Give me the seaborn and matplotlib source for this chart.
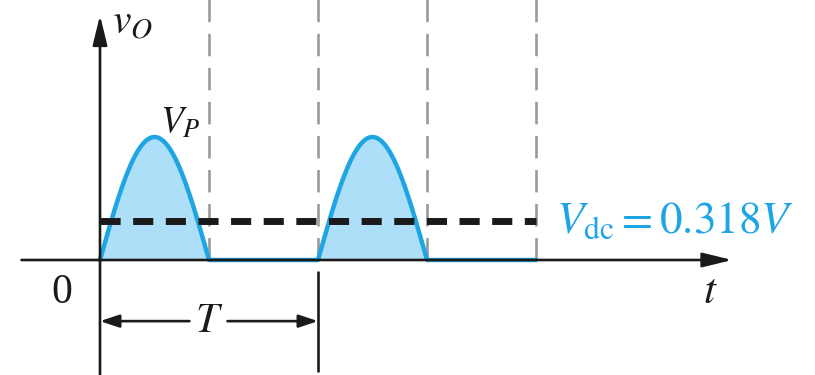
import numpy as np
import pandas as pd
import matplotlib
matplotlib.use("Agg")
import matplotlib.pyplot as plt
import seaborn as sns

# Half-wave rectified output: peak voltage, period, number of cycles shown
peak_voltage = 1.0
period = 1.0
cycles = 2
dc_ratio = 0.318

# Label text
label_vo = r"$v_O$"
label_vp = r"$V_P$"
label_zero = "0"
label_t = r"$t$"
label_T = r"$T$"
label_dc = r"$V_{\rm dc} = 0.318V$"

blue = "#1ea5e3"
fill_blue = "#addff8"
grey = "#9a9a9a"
ink = "#1a1a1a"

sns.set_theme(style="white")
plt.rcParams["mathtext.fontset"] = "stix"
plt.rcParams["font.family"] = ["Liberation Serif", "DejaVu Serif"]

# Sampled waveform
t = np.linspace(0, cycles * period, 2001)
phase = np.mod(t, period)
v = np.where(phase < period / 2, peak_voltage * np.sin(2 * np.pi * t / period), 0.0)
wave = pd.DataFrame({"t": t, "v": v})
vdc = dc_ratio * peak_voltage
dc = pd.DataFrame({"t": [0, cycles * period], "v": [vdc, vdc]})

fig = plt.figure(figsize=(8.15, 3.75), dpi=100)
ax = fig.add_axes([0, 0, 1, 1])
ax.set_xlim(-0.4587, 3.2798)
ax.set_ylim(-0.935, 2.114)
ax.axis("off")

# Grey dashed markers at every half period
for k in range(1, 2 * cycles + 1):
    xk = k * period / 2
    ax.plot([xk, xk], [0, 2.2], color=grey, lw=1.9, dashes=(8.5, 4.4), zorder=1)

# Shaded half cycles and outline
ax.fill_between(wave["t"], 0, wave["v"], color=fill_blue, lw=0, zorder=2)
sns.lineplot(data=wave, x="t", y="v", color=blue, lw=3.2, ax=ax, zorder=3)

# Average (dc) level
sns.lineplot(data=dc, x="t", y="v", color=ink, lw=5.0, ax=ax, zorder=4)
ax.lines[-1].set_dashes((2.9, 1.8))

# Axes with arrows
arrow = dict(arrowstyle="-|>,head_length=0.45,head_width=0.11", color=ink, lw=1.9,
             mutation_scale=40, shrinkA=0, shrinkB=0)
ax.annotate("", xy=(2.9, 0), xytext=(-0.36, 0), arrowprops=arrow, zorder=5)
ax.annotate("", xy=(0, 1.99), xytext=(0, -0.95), arrowprops=arrow, zorder=5)

# Period marker
ax.plot([period, period], [-0.1, -0.9], color=ink, lw=1.9, zorder=5)
tick_arrow = dict(arrowstyle="-|>,head_length=0.36,head_width=0.12", color=ink, lw=1.9,
                  mutation_scale=32, shrinkA=0, shrinkB=0)
ax.annotate("", xy=(0, -0.497), xytext=(0.41, -0.497), arrowprops=tick_arrow)
ax.annotate("", xy=(period, -0.497), xytext=(0.585, -0.497), arrowprops=tick_arrow)

# Labels
ax.text(0.15, 1.92, label_vo, fontsize=30, ha="center", va="center", color=ink)
ax.text(0.37, 1.11, label_vp, fontsize=27, ha="center", va="center", color=ink)
ax.text(-0.175, -0.27, label_zero, fontsize=30, ha="center", va="center", color=ink)
ax.text(2.8, -0.27, label_t, fontsize=31, ha="center", va="center", color=ink)
ax.text(0.5, -0.5, label_T, fontsize=30, ha="center", va="center", color=ink)
ax.text(2.09, 0.31, label_dc, fontsize=32.5, ha="left", va="center", color=blue)

fig.savefig("out.png", dpi=100)
